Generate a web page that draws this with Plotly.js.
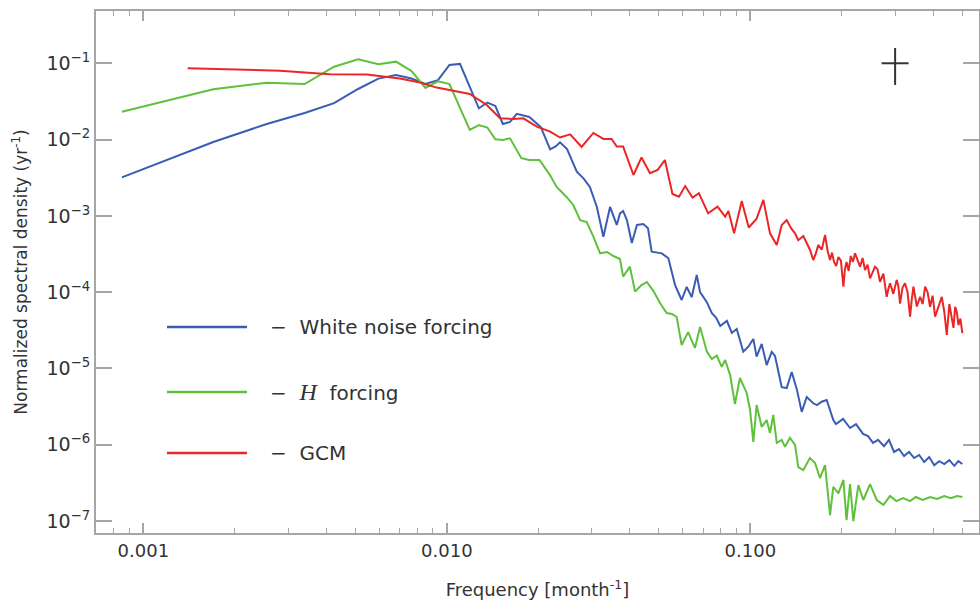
<!DOCTYPE html>
<html>
<head>
<meta charset="utf-8">
<script src="https://cdn.plot.ly/plotly-3.0.1.min.js"></script>
<style>html,body{margin:0;padding:0;background:#fff;}#chart{width:980px;height:610px;}</style>
</head>
<body>
<div id="chart"></div>
<script>
// Frequencies in month^-1, spectral density in yr^-1
var blueFreq = [0.00085,0.0017,0.00255,0.0034,0.00425,0.0051,0.00595,0.0068,0.00765,0.0085,0.00935,0.0102,0.01105,0.0119,0.01275,0.0136,0.01445,0.0153,0.01615,0.017,0.0187,0.0204,0.0219,0.0229,0.0236,0.0249,0.0268,0.0282,0.0296,0.0312,0.0328,0.0345,0.0363,0.0372,0.0381,0.0392,0.0407,0.0423,0.0444,0.046,0.0473,0.0511,0.0537,0.0565,0.0594,0.0617,0.0641,0.0666,0.0683,0.0719,0.0747,0.0772,0.0796,0.0837,0.0869,0.0902,0.0948,0.0985,0.1023,0.1049,0.109,0.1132,0.1176,0.1206,0.1269,0.1318,0.1369,0.1422,0.1477,0.1534,0.1612,0.1658,0.1718,0.1785,0.1877,0.1916,0.2021,0.2131,0.223,0.2352,0.2443,0.2537,0.2636,0.2757,0.2864,0.2975,0.309,0.321,0.3335,0.3465,0.36,0.374,0.3885,0.4036,0.4193,0.4356,0.4525,0.4701,0.4846,0.4996];
var blueVal = [3.2e-3,9.3e-3,1.6e-2,2.23e-2,3.0e-2,4.6e-2,6.3e-2,7.0e-2,6.3e-2,5.35e-2,6.0e-2,9.5e-2,9.8e-2,4.75e-2,2.57e-2,3.06e-2,2.76e-2,1.6e-2,1.7e-2,2.17e-2,1.98e-2,1.46e-2,7.45e-3,8.2e-3,9.2e-3,7.5e-3,3.8e-3,3.1e-3,2.4e-3,1.32e-3,5.34e-4,1.31e-3,7.6e-4,1.08e-3,1.16e-3,8.8e-4,4.4e-4,7.6e-4,7.8e-4,6.9e-4,3.4e-4,3.23e-4,2.78e-4,1.24e-4,7.9e-5,1.17e-4,8.6e-5,1.68e-4,1.0e-4,7.4e-5,5.3e-5,4.6e-5,3.6e-5,4.2e-5,2.92e-5,3.3e-5,1.66e-5,1.93e-5,2.44e-5,1.43e-5,2.1e-5,1.11e-5,1.65e-5,1.46e-5,5.7e-6,5.55e-6,9.0e-6,5.4e-6,2.7e-6,4.23e-6,3.5e-6,3.32e-6,3.67e-6,3.86e-6,2.11e-6,1.87e-6,2.18e-6,1.66e-6,1.87e-6,1.39e-6,1.3e-6,1.06e-6,1.16e-6,9.6e-7,1.16e-6,8.05e-7,8.8e-7,7.1e-7,8.05e-7,6.7e-7,7.35e-7,5.95e-7,6.9e-7,5.4e-7,6.1e-7,5.6e-7,6.3e-7,5.3e-7,6.1e-7,5.6e-7];

var greenFreq = [0.00085,0.0017,0.00255,0.0034,0.00425,0.0051,0.00595,0.0068,0.00765,0.0085,0.00935,0.0102,0.01105,0.0119,0.01275,0.0136,0.01445,0.0153,0.01615,0.017,0.0176,0.0187,0.0202,0.0219,0.023,0.0248,0.0261,0.0275,0.0289,0.0304,0.032,0.0337,0.0354,0.0372,0.0381,0.0401,0.0417,0.0438,0.0456,0.0479,0.0504,0.053,0.0552,0.0572,0.0594,0.0624,0.0657,0.0683,0.0719,0.0747,0.0775,0.0805,0.0826,0.0858,0.089,0.0924,0.0973,0.0998,0.1023,0.1049,0.109,0.1132,0.1161,0.119,0.1222,0.1269,0.1301,0.1351,0.1404,0.1439,0.1495,0.1572,0.1634,0.1696,0.1763,0.1831,0.1877,0.1951,0.2026,0.2075,0.2131,0.2185,0.227,0.2357,0.248,0.261,0.2744,0.2887,0.303,0.319,0.336,0.351,0.37,0.391,0.412,0.4356,0.458,0.48,0.4996];
var greenVal = [2.32e-2,4.55e-2,5.57e-2,5.35e-2,9.0e-2,1.13e-1,9.7e-2,1.05e-1,7.9e-2,4.75e-2,5.8e-2,5.35e-2,2.6e-2,1.34e-2,1.55e-2,1.44e-2,1.01e-2,9.9e-3,1.04e-2,7.3e-3,5.7e-3,5.4e-3,5.4e-3,3.4e-3,2.4e-3,1.77e-3,1.39e-3,8.8e-4,8.3e-4,5.34e-4,3.23e-4,3.36e-4,2.98e-4,2.72e-4,1.6e-4,2.16e-4,1.02e-4,1.24e-4,1.36e-4,1.04e-4,7.2e-5,5.34e-5,5.18e-5,4.73e-5,2.03e-5,3.0e-5,1.86e-5,3.5e-5,1.66e-5,1.33e-5,1.48e-5,1.05e-5,1.29e-5,8.2e-6,3.42e-6,7.5e-6,4.78e-6,2.86e-6,1.09e-6,3.32e-6,1.71e-6,2.11e-6,1.43e-6,2.46e-6,1.06e-6,1.16e-6,9.4e-7,1.23e-6,1.0e-6,5.1e-7,4.67e-7,6.7e-7,5.77e-7,3.67e-7,5.43e-7,1.2e-7,2.82e-7,2.31e-7,3.46e-7,1.03e-7,3.06e-7,1.0e-7,2.97e-7,1.89e-7,3.06e-7,1.89e-7,1.63e-7,2.13e-7,1.83e-7,2.0e-7,1.83e-7,2.07e-7,1.89e-7,2.07e-7,1.95e-7,2.13e-7,2.0e-7,2.13e-7,2.07e-7];

var redFreq = [0.0014,0.00282,0.00412,0.00545,0.007,0.008,0.00926,0.01024,0.0119,0.01354,0.01497,0.01656,0.01786,0.0198,0.0219,0.0236,0.0255,0.0278,0.0304,0.0328,0.0349,0.0363,0.0381,0.0412,0.0438,0.0467,0.0495,0.0523,0.0554,0.0582,0.061,0.0645,0.0677,0.0726,0.078,0.0826,0.0847,0.0884,0.0937,0.0988,0.1049,0.1104,0.1161,0.1222,0.1269,0.1318,0.1362,0.1404,0.1439,0.1495,0.1534,0.1572,0.1612,0.1643,0.1675,0.1719,0.1763,0.1797,0.1831,0.1859,0.1887,0.1919,0.1951,0.1988,0.2026,0.205,0.2075,0.2109,0.2143,0.2178,0.2213,0.2256,0.2299,0.2343,0.2388,0.2434,0.248,0.2527,0.2575,0.2625,0.2675,0.2744,0.2814,0.285,0.2887,0.296,0.3036,0.3075,0.3114,0.3174,0.3234,0.3297,0.336,0.3403,0.3447,0.3537,0.3627,0.3697,0.3767,0.3838,0.391,0.3987,0.4064,0.417,0.4275,0.4357,0.444,0.4527,0.4613,0.4671,0.473,0.479,0.485,0.4923,0.4996];
var redVal = [8.6e-2,8.0e-2,7.2e-2,7.1e-2,6.3e-2,5.7e-2,4.8e-2,4.47e-2,3.96e-2,2.84e-2,1.9e-2,1.86e-2,1.9e-2,1.48e-2,1.27e-2,1.065e-2,1.17e-2,8.0e-3,1.22e-2,1.02e-2,1.02e-2,8.1e-3,8.1e-3,3.43e-3,5.83e-3,3.62e-3,4.0e-3,5.4e-3,1.94e-3,1.78e-3,2.46e-3,1.74e-3,1.98e-3,1.08e-3,1.32e-3,9.76e-4,1.16e-3,5.9e-4,1.57e-3,7.05e-4,9.2e-4,1.62e-3,5.9e-4,4.16e-4,7.6e-4,8.8e-4,6.9e-4,5.9e-4,4.8e-4,5.45e-4,4.38e-4,3.6e-4,2.64e-4,3.2e-4,4.16e-4,3.6e-4,5.62e-4,3.5e-4,2.64e-4,3.3e-4,2.49e-4,2.2e-4,2.89e-4,2.6e-4,1.18e-4,2.0e-4,2.49e-4,1.9e-4,2.98e-4,2.5e-4,3.23e-4,2.6e-4,2.16e-4,2.8e-4,1.95e-4,2.3e-4,1.52e-4,1.8e-4,2.16e-4,2.0e-4,1.37e-4,1.75e-4,8.7e-5,1.1e-4,1.31e-4,9.5e-5,1.45e-4,1.2e-4,7.1e-5,1.15e-4,1.31e-4,1.0e-4,4.78e-5,8.0e-5,1.18e-4,6.5e-5,8.7e-5,7.0e-5,1.18e-4,1.0e-4,6.45e-5,9.0e-5,4.78e-5,6.5e-5,8.7e-5,5.5e-5,2.75e-5,7.0e-5,4.3e-5,3.4e-5,6.45e-5,5.5e-5,3.7e-5,4.5e-5,2.9e-5];

// Uncertainty cross (top right)
var crossFreq = [0.3];
var crossVal = [0.1];
var crossErrXPlus = [0.0323], crossErrXMinus = [0.0292];
var crossErrYPlus = [0.0586], crossErrYMinus = [0.048];

var seriesNames = ["White noise forcing", "<i>H</i> forcing", "GCM"];

var xTickVals = [0.001, 0.01, 0.1];
var xTickText = ["0.001", "0.010", "0.100"];
var xMinorVals = [0.0007,0.0008,0.0009,0.002,0.003,0.004,0.005,0.006,0.007,0.008,0.009,0.02,0.03,0.04,0.05,0.06,0.07,0.08,0.09,0.2,0.3,0.4,0.5,0.6,0.7];
var yTickVals = [1e-1,1e-2,1e-3,1e-4,1e-5,1e-6,1e-7];
var yTickText = ["10<sup>−1</sup>","10<sup>−2</sup>","10<sup>−3</sup>","10<sup>−4</sup>","10<sup>−5</sup>","10<sup>−6</sup>","10<sup>−7</sup>"];

var BLUE = "#3a5db3", GREEN = "#5fc13b", RED = "#ec2626";
var TXT = "#333333", AX = "#a6a6a6";
var FONT = "DejaVu Sans, Verdana, sans-serif";

var traces = [
  {x: blueFreq, y: blueVal, type: "scatter", mode: "lines", name: seriesNames[0], line: {color: BLUE, width: 2}},
  {x: greenFreq, y: greenVal, type: "scatter", mode: "lines", name: seriesNames[1], line: {color: GREEN, width: 2}},
  {x: redFreq, y: redVal, type: "scatter", mode: "lines", name: seriesNames[2], line: {color: RED, width: 2}},
  {x: crossFreq, y: crossVal, type: "scatter", mode: "markers", marker: {size: 1, color: "#333"},
   error_x: {type: "data", symmetric: false, array: crossErrXPlus, arrayminus: crossErrXMinus, width: 0, thickness: 2, color: "#333"},
   error_y: {type: "data", symmetric: false, array: crossErrYPlus, arrayminus: crossErrYMinus, width: 0, thickness: 2, color: "#333"},
   hoverinfo: "skip"}
];

var legY = [0.3946, 0.2701, 0.1533];
var legColors = [BLUE, GREEN, RED];
var shapes = [], annotations = [];
var gap = "\u2212\u00A0\u00A0";
for (var i = 0; i < 3; i++) {
  shapes.push({type: "line", xref: "paper", yref: "paper", x0: 0.0804, x1: 0.171, y0: legY[i], y1: legY[i],
               line: {color: legColors[i], width: 2.5}});
  var label = i === 1 ? gap + "<span style=\"font-family:'Liberation Serif',serif;font-size:24px\"><i>H</i></span>\u00A0 forcing" : gap + seriesNames[i];
  annotations.push({xref: "paper", yref: "paper", x: 0.195, y: legY[i], xanchor: "left", yanchor: "middle",
                    text: label, showarrow: false, font: {family: FONT, size: 20, color: TXT}});
}

var layout = {
  width: 980, height: 610,
  margin: {l: 96, r: 1, t: 11, b: 77},
  paper_bgcolor: "#ffffff", plot_bgcolor: "#ffffff",
  showlegend: false,
  font: {family: FONT, color: TXT},
  xaxis: {
    type: "log", range: [-3.156, -0.2465],
    showline: true, linecolor: AX, linewidth: 2, mirror: "ticks",
    ticks: "inside", ticklen: 10, tickwidth: 1.5, tickcolor: AX,
    tickmode: "array", tickvals: xTickVals, ticktext: xTickText,
    tickfont: {family: FONT, size: 18, color: TXT},
    showgrid: false, zeroline: false,
    minor: {tickmode: "array", tickvals: xMinorVals, ticks: "inside", ticklen: 5, tickwidth: 1.2, tickcolor: AX, showgrid: false},
    title: {text: "Frequency [month<sup>-1</sup>]", font: {family: FONT, size: 18, color: TXT}, standoff: 24}
  },
  yaxis: {
    type: "log", range: [-7.156, -0.315],
    showline: true, linecolor: AX, linewidth: 2, mirror: "ticks",
    ticks: "inside", ticklen: 16, tickwidth: 1.5, tickcolor: AX,
    tickmode: "array", tickvals: yTickVals, ticktext: yTickText,
    tickfont: {family: FONT, size: 19, color: TXT},
    showgrid: false, zeroline: false,
    title: {text: "Normalized spectral density (yr<sup>-1</sup>)", font: {family: FONT, size: 17, color: TXT}, standoff: 14}
  },
  shapes: shapes,
  annotations: annotations
};

Plotly.newPlot("chart", traces, layout, {displayModeBar: false});
</script>
</body>
</html>
